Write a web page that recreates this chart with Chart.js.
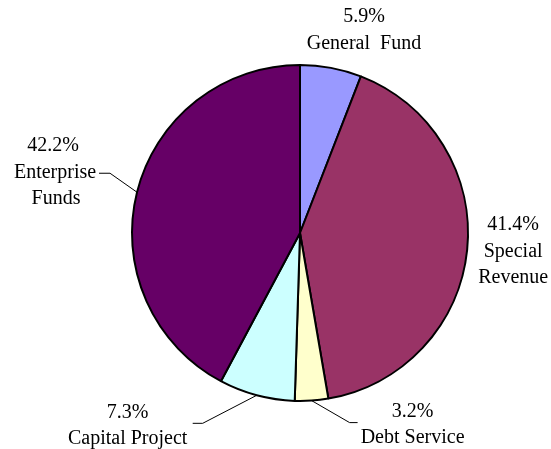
<!DOCTYPE html>
<html>
<head>
<meta charset="utf-8">
<script src="https://cdn.jsdelivr.net/npm/chart.js@4"></script>
<style>
  html, body { margin: 0; padding: 0; background: #fff; }
  #wrap { width: 551px; height: 449px; }
</style>
</head>
<body>
<div id="wrap"><canvas id="fondos"></canvas></div>
<script>
const categorias = [['General  Fund'], ['Special', 'Revenue'], ['Debt Service'], ['Capital Project'], ['Enterprise', 'Funds']];
const porcentajes = [5.9, 41.4, 3.2, 7.3, 42.2];
const colores = ['#9999FF', '#993366', '#FFFFCC', '#CCFFFF', '#660066'];

// where each label sits, measured from the outer mid point of its slice
const etiquetas = [
  { dx: [33, 33], dy: -51 },
  { dx: [46, 46, 46], dy: -25 },
  { dx: [101, 101], dy: 11, codo: [38, 22], fin: 46 },
  { dx: [-129, -129], dy: 17, codo: [-54, 28], fin: -64 },
  { dx: [-84, -82, -81], dy: -46, codo: [-27, -19], fin: -38 }
];

const rotulos = {
  id: 'rotulos',
  afterDraw(chart) {
    const ctx = chart.ctx;
    const arcs = chart.getDatasetMeta(0).data;
    ctx.save();
    ctx.font = '20px "Liberation Serif", "Times New Roman", serif';
    ctx.fillStyle = '#000';
    ctx.strokeStyle = '#000';
    ctx.lineWidth = 1;
    ctx.textAlign = 'center';
    ctx.textBaseline = 'middle';
    arcs.forEach((arc, i) => {
      const p = arc.getProps(['x', 'y', 'startAngle', 'endAngle', 'outerRadius'], true);
      const mid = (p.startAngle + p.endAngle) / 2;
      const ox = p.x + Math.cos(mid) * p.outerRadius;
      const oy = p.y + Math.sin(mid) * p.outerRadius;
      const e = etiquetas[i];
      if (e.codo) {
        ctx.beginPath();
        ctx.moveTo(ox, oy);
        ctx.lineTo(ox + e.codo[0], oy + e.codo[1]);
        ctx.lineTo(ox + e.fin, oy + e.codo[1]);
        ctx.stroke();
      }
      const lineas = [porcentajes[i].toFixed(1) + '%'].concat(categorias[i]);
      lineas.forEach((t, j) => {
        ctx.fillText(t, ox + e.dx[j], oy + e.dy + j * 26.5);
      });
    });
    ctx.restore();
  }
};

new Chart(document.getElementById('fondos'), {
  type: 'pie',
  data: {
    labels: categorias.map(c => c.join(' ')),
    datasets: [{
      data: porcentajes,
      backgroundColor: colores,
      borderColor: '#000',
      borderWidth: 2
    }]
  },
  options: {
    responsive: true,
    maintainAspectRatio: false,
    animation: false,
    layout: { padding: { top: 64, bottom: 47, left: 131, right: 82 } },
    plugins: {
      legend: { display: false },
      tooltip: { enabled: false }
    }
  },
  plugins: [rotulos]
});
</script>
</body>
</html>
